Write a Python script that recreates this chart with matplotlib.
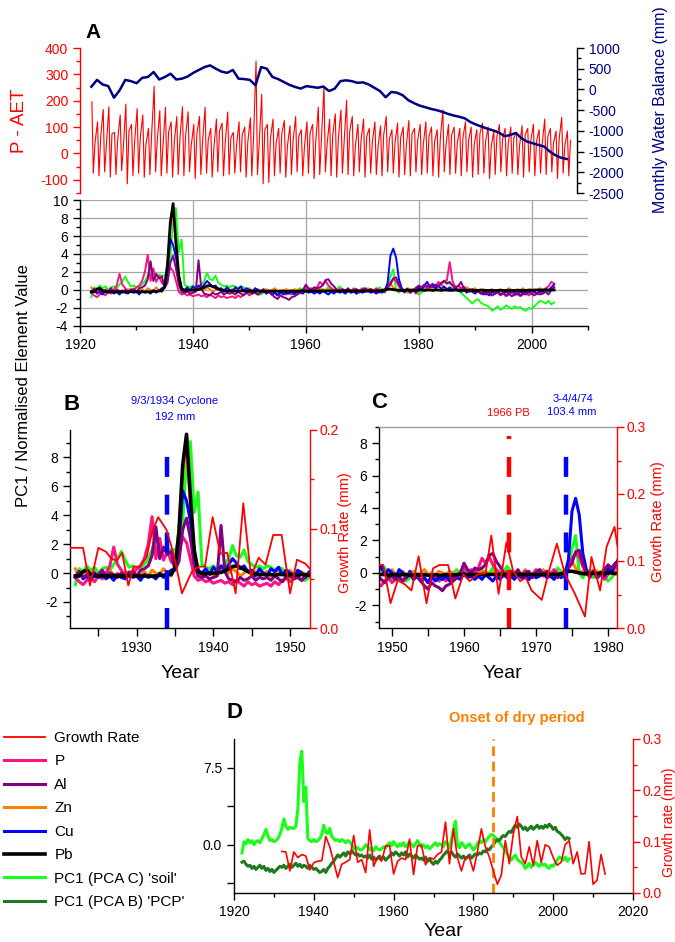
import numpy as np
import matplotlib
matplotlib.use('Agg')
import matplotlib.pyplot as plt
from matplotlib.ticker import MultipleLocator, FixedLocator, FormatStrFormatter

plt.rcParams['font.family'] = ['Liberation Sans', 'DejaVu Sans']
plt.rcParams['font.size'] = 10
plt.rcParams['axes.linewidth'] = 1.0
plt.rcParams['axes.unicode_minus'] = False

# ---------------- data ----------------

# P - AET (mm), one big spike, one trough and one small spike per year, from 1922
p_aet_peak = [196, 120, 167, 177, 80, 146, 187, 110, 170, 146,
              95, 255, 162, 175, 120, 140, 177, 158, 110, 140,
              175, 95, 130, 115, 157, 80, 120, 100, 135, 350,
              224, 110, 130, 95, 125, 105, 140, 90, 120, 110,
              175, 255, 130, 150, 165, 202, 140, 110, 130, 95,
              120, 105, 140, 90, 115, 100, 125, 95, 110, 120,
              100, 90, 165, 110, 100, 95, 120, 100, 90, 115,
              100, 85, 110, 95, 100, 80, 105, 95, 110, 90,
              130, 95, 85, 137, 85]
p_aet_trough = [-75, -85, -70, -90, -80, -65, -115, -85, -75, -90,
                -80, -70, -85, -75, -90, -80, -85, -70, -95, -80,
                -75, -90, -70, -85, -80, -75, -70, -90, -85, -80,
                -115, -110, -85, -75, -90, -80, -70, -85, -75, -95,
                -80, -70, -85, -90, -75, -80, -85, -70, -90, -75,
                -80, -85, -70, -75, -90, -80, -85, -70, -80, -75,
                -85, -90, -70, -80, -75, -85, -70, -90, -80, -75,
                -95, -80, -70, -85, -75, -80, -90, -70, -85, -75,
                -80, -70, -95, -75, -85]
p_aet_second = [40, 60, 30, 75, 50, 20, 85, 45, 60, 35,
                70, 50, 25, 80, 40, 55, 65, 30, 75, 45,
                50, 20, 85, 40, 60, 30, 70, 45, 55, 35,
                90, 60, 40, 75, 30, 50, 65, 25, 80, 45,
                55, 35, 70, 60, 40, 85, 30, 50, 65, 45,
                25, 70, 55, 40, 60, 30, 75, 50, 35, 65,
                45, 55, 30, 70, 40, 60, 50, 35, 75, 45,
                25, 65, 55, 40, 60, 30, 70, 50, 45, 35,
                65, 40, 55, 30, 50]

# monthly water balance (mm), yearly readings from 1922
water_balance = [65, 230, 120, 80, -200, -20, 230, 200, 150, 280,
                 300, 420, 240, 300, 380, 240, 260, 310, 400, 470,
                 540, 580, 500, 430, 400, 470, 260, 250, 230, 100,
                 540, 500, 300, 250, 180, 110, 60, 20, 80, 60,
                 40, 70, -40, 20, 200, 220, 200, 160, 170, 120,
                 40, -40, -190, -60, -80, -140, -260, -330, -390, -430,
                 -470, -500, -540, -590, -630, -660, -700, -790, -850, -900,
                 -950, -990, -1040, -1130, -1100, -1050, -1180, -1260, -1300, -1340,
                 -1380, -1500, -1590, -1650, -1680]

# normalised element values, half-year steps from 1922.0 to 2004.0
pb = [-0.2, -0.2, 0.1, 0.2, -0.1, -0.2, -0.2, -0.2, -0.2, -0.2,
      -0.2, -0.2, -0.2, -0.2, -0.2, -0.2, -0.2, -0.2, -0.2, -0.2,
      -0.2, -0.2, -0.15, -0.15, -0.1, -0.1, 0.4, 2.8, 7.5, 9.6,
      5.3, 1.6, 0.1, -0.05, -0.05, 0.0, 0.0, 0.0, 0.05, 0.15,
      0.3, 0.45, 0.5, 0.4, 0.25, 0.1, 0.0, -0.05, -0.1, -0.1,
      -0.1, -0.1, -0.15, -0.1, -0.1, -0.15, -0.1, -0.1, -0.15, -0.1,
      -0.1, -0.15, -0.15, -0.1, -0.15, -0.1, -0.15, -0.15, -0.1, -0.15,
      -0.15, -0.1, -0.15, -0.15, -0.1, -0.1, -0.15, -0.1, -0.1, -0.1,
      -0.1, -0.1, -0.1, -0.1, -0.1, -0.1, -0.1, -0.1, -0.1, -0.1,
      -0.1, -0.1, -0.1, -0.1, -0.1, -0.1, -0.1, -0.1, -0.1, -0.1,
      -0.1, -0.1, -0.1, -0.05, 0.0, 0.1, 0.1, 0.05, 0.0, -0.05,
      -0.05, -0.05, 0.0, -0.05, 0.0, -0.05, 0.0, 0.0, -0.05, 0.0,
      0.0, -0.05, 0.0, 0.0, -0.05, 0.0, 0.0, -0.05, 0.0, 0.0,
      -0.05, 0.0, -0.05, -0.05, 0.0, -0.05, -0.05, -0.05, 0.0, -0.05,
      -0.05, -0.05, -0.05, -0.05, -0.05, -0.05, -0.05, -0.05, -0.05, -0.05,
      -0.05, -0.05, -0.05, -0.05, -0.05, 0.0, -0.05, 0.0, 0.0, 0.0,
      0.0, 0.0, 0.0, 0.0, 0.0]
zn = [0.3, -0.2, 0.0, 0.2, -0.3, 0.1, -0.2, 0.0, -0.1, 0.2,
      -0.2, 0.0, -0.3, 0.1, -0.1, 0.2, -0.2, 0.0, 0.1, -0.2,
      0.2, 0.0, -0.1, 0.3, 0.0, -0.2, 0.5, 3.0, 7.0, 8.6,
      4.8, 1.2, 0.1, -0.1, 0.2, 0.0, -0.2, 0.1, 0.3, 0.2,
      0.0, 0.3, 0.1, -0.2, 0.0, 0.2, -0.1, 0.1, -0.2, 0.0,
      0.1, -0.2, 0.0, 0.2, -0.1, 0.0, 0.2, -0.1, 0.0, 0.1,
      -0.2, 0.0, 0.1, -0.1, 0.0, 0.2, -0.1, 0.0, -0.2, 0.1,
      0.0, -0.1, 0.1, 0.0, -0.2, 0.1, 0.2, 0.0, 0.1, -0.1,
      0.2, 0.0, 0.1, -0.1, 0.0, 0.2, -0.1, 0.0, 0.1, -0.1,
      0.0, 0.1, -0.1, 0.2, 0.0, -0.1, 0.1, 0.0, 0.2, -0.1,
      0.0, 0.1, -0.2, 0.0, 0.1, 0.4, 0.7, 0.3, 0.0, 0.1,
      -0.1, 0.0, 0.2, 0.1, -0.1, 0.3, 0.2, 0.0, 0.1, 0.4,
      0.2, 0.3, 0.1, 0.4, 0.6, 0.3, 0.2, 0.1, 0.3, 0.2,
      0.1, 0.2, 0.0, 0.3, 0.1, 0.0, 0.2, -0.1, 0.0, 0.1,
      -0.1, 0.0, 0.1, -0.2, 0.0, 0.1, -0.1, 0.0, 0.2, 0.0,
      -0.1, 0.1, 0.0, 0.2, -0.1, 0.0, 0.1, -0.1, 0.0, 0.2,
      0.0, 0.1, -0.1, 0.2, 0.3]
cu = [-0.3, 0.1, -0.4, -0.2, -0.5, 0.0, -0.3, -0.1, -0.4, -0.2,
      -0.5, -0.1, -0.3, -0.4, 0.0, -0.3, -0.2, -0.5, -0.1, -0.3,
      -0.2, -0.4, 0.0, -0.3, -0.1, 0.2, 0.3, 2.0, 5.7, 5.0,
      3.6, 1.5, 0.2, 0.0, 0.3, -0.1, 0.4, 0.1, 0.5, 0.2,
      0.6, 1.0, 0.7, 0.3, 0.5, 0.1, 0.2, -0.2, 0.3, 0.0,
      -0.2, 0.3, 0.1, 0.4, -0.1, 0.2, 0.0, -0.3, 0.2, 0.0,
      -0.3, 0.1, -0.4, -0.2, -0.5, -0.3, -0.6, -0.2, -0.5, -0.3,
      -0.4, -0.2, -0.5, -0.1, -0.3, -0.4, 0.0, -0.3, -0.2, -0.4,
      -0.2, -0.4, -0.1, -0.3, -0.5, -0.2, -0.4, -0.1, -0.3, -0.2,
      -0.4, -0.1, -0.3, -0.2, -0.4, -0.1, -0.3, -0.2, 0.0, -0.3,
      -0.2, -0.4, -0.1, -0.3, -0.1, 0.8, 3.8, 4.6, 3.6, 1.2,
      0.2, -0.2, 0.1, -0.3, 0.0, -0.2, 0.3, 0.0, 0.5, 0.9,
      0.3, 0.6, 0.2, 0.5, 0.1, 0.4, 0.0, 0.3, -0.1, 0.2,
      0.0, -0.2, 0.1, -0.3, 0.0, -0.2, -0.4, -0.1, -0.3, -0.5,
      -0.3, -0.6, -0.2, -0.4, -0.1, -0.5, -0.3, -0.2, -0.4, -0.1,
      -0.3, -0.5, -0.2, -0.4, -0.1, -0.3, 0.0, -0.2, -0.4, -0.1,
      -0.2, 0.1, -0.1, 0.3, 0.6]
al = [-0.2, 0.1, -0.3, -0.1, 0.0, -0.2, -0.1, 0.2, -0.2, 0.0,
      -0.1, -0.3, 0.0, -0.2, -0.1, 0.1, -0.2, 0.2, 0.3, 0.5,
      1.2, 3.2, 1.0, 1.8, 1.3, 1.5, 0.2, 0.8, 3.0, 3.8,
      2.4, 0.6, -0.2, -0.3, -0.2, -0.4, -0.3, -0.2, 3.3, 0.1,
      -0.4, -0.5, -0.6, -0.3, -0.5, -0.4, -0.2, -0.5, -0.3, -0.4,
      -0.3, -0.5, -0.2, -0.4, -0.6, -0.3, -0.2, -0.4, -0.3, -0.5,
      -0.2, 0.0, -0.3, -0.2, -0.5, -0.8, -1.0, -0.6, -0.8, -0.9,
      -1.1, -0.8, -0.7, -0.5, -0.3, 0.0, 0.6, 0.2, 0.0, 0.3,
      0.2, 0.3, 0.5, 1.1, 1.2, 0.7, 0.4, 0.0, -0.2, 0.1,
      -0.1, 0.2, -0.2, 0.0, 0.1, -0.3, 0.0, 0.2, -0.1, 0.1,
      -0.2, 0.0, -0.3, -0.1, -0.2, 0.3, 0.6, 1.3, 1.4, 0.6,
      0.0, -0.2, 0.1, -0.3, -0.1, 0.2, 0.5, 0.3, 0.6, 0.4,
      0.5, 0.3, 0.6, 0.4, 0.8, 1.0, 0.7, 0.9, 0.5, 0.3,
      0.4, 0.9, 0.2, 0.0, -0.2, 0.1, -0.3, -0.1, -0.4, -0.2,
      -0.5, -0.3, -0.6, -0.4, -0.2, -0.5, -0.3, -0.6, -0.4, -0.7,
      -0.5, -0.3, -0.6, -0.4, -0.5, -0.2, -0.4, -0.6, -0.3, -0.5,
      -0.4, -0.2, -0.5, 0.0, 0.3]
p = [-0.3, -0.6, -0.8, -0.5, -0.3, -0.6, -0.2, -0.4, 0.0, 0.5,
     1.8, 0.6, 0.2, -0.2, 0.1, -0.1, 0.3, 0.5, 1.0, 2.0,
     3.9, 1.0, 2.4, 0.9, 1.5, 0.8, 0.5, 1.5, 2.5, 2.1,
     1.0, -0.2, -0.5, -0.4, -0.6, -0.5, -0.7, -0.6, -0.5, -0.7,
     -0.6, -0.8, -0.5, -0.7, -0.9, -0.6, -0.8, -0.7, -0.9, -0.8,
     -0.7, -0.9, -0.6, -0.8, -0.5, -0.3, -0.6, -0.4, -0.2, -0.5,
     -0.3, -0.1, -0.4, -0.2, -0.5, -0.3, -0.6, -0.4, -0.2, -0.5,
     -0.3, -0.5, -0.2, -0.4, -0.1, 0.0, 0.3, 0.1, 0.2, 0.0,
     0.3, 0.9, 0.6, 1.0, 0.5, 0.2, 0.0, -0.2, 0.1, -0.1,
     -0.3, 0.0, -0.2, 0.1, -0.4, -0.1, 0.2, 0.0, -0.2, 0.1,
     -0.1, 0.2, 0.0, -0.2, 0.1, 0.5, 0.9, 1.2, 1.0, 0.4,
     0.0, -0.3, 0.1, -0.2, 0.0, -0.4, -0.1, 0.2, 0.4, 0.2,
     0.5, 0.7, 0.4, 0.9, 0.6, 1.0, 1.1, 3.1, 1.0, 0.3,
     0.5, 0.2, 0.4, 0.0, -0.2, 0.1, -0.3, -0.1, -0.4, -0.3,
     -0.5, -0.2, -0.6, -0.4, -0.3, -0.6, -0.4, -0.7, -0.5, -0.3,
     -0.6, -0.4, -0.7, -0.5, -0.3, -0.6, -0.4, -0.2, -0.5, -0.3,
     -0.1, 0.2, 0.4, 0.9, 0.7]
pc1_soil = [-0.8, 0.3, 0.1, 0.5, 0.2, 0.4, 0.0, 0.3, 0.4, 0.2,
            0.6, 1.0, 1.5, 0.9, 0.4, 0.5, 0.3, 0.4, 0.6, 1.0,
            1.6, 2.5, 1.8, 1.5, 1.7, 1.6, 1.6, 1.8, 3.5, 8.0,
            9.1, 4.2, 5.6, 0.6, 0.4, 0.3, 0.5, 0.3, 0.4, 0.6,
            1.0, 1.9, 1.2, 1.1, 1.6, 0.8, 0.6, 0.4, 0.5, 0.3,
            0.5, 0.4, 0.2, 0.4, 0.3, 0.0, -0.4, -0.2, -0.3, -0.5,
            -0.5, -0.3, 0.0, -0.2, -0.5, -0.3, -0.6, -0.2, -0.4, -0.5,
            -0.4, -0.2, -0.3, 0.0, 0.2, -0.1, 0.3, 0.0, -0.2, 0.1,
            -0.1, 0.2, -0.2, 0.0, 0.3, 0.0, -0.2, 0.1, 0.4, 0.1,
            -0.2, 0.0, -0.3, -0.1, -0.4, -0.2, 0.0, 0.2, -0.1, 0.1,
            0.0, -0.2, 0.3, 0.1, -0.3, 0.5, 1.5, 2.3, 0.0, -0.3,
            0.2, 0.0, -0.3, -0.1, 0.1, -0.2, -0.5, -0.3, 0.1, 0.4,
            0.2, 0.5, 0.3, 0.6, 0.8, 1.0, 0.9, 0.7, 0.5, 0.2,
            0.0, -0.3, -0.6, -0.9, -1.2, -1.5, -1.2, -1.0, -1.4, -1.6,
            -1.7, -1.9, -2.3, -2.1, -1.8, -2.2, -2.0, -1.7, -1.9, -2.1,
            -1.8, -2.0, -1.9, -2.2, -2.3, -2.0, -2.1, -1.8, -1.5, -1.2,
            -1.3, -1.5, -1.2, -1.6, -1.4]
pc1_pcp = [-1.7, -1.6, -1.9, -2.1, -2.0, -2.3, -2.1, -2.4, -2.2, -2.0,
           -2.3, -2.1, -2.5, -2.3, -2.6, -2.4, -2.7, -2.5, -2.3, -2.1,
           -2.2, -2.0, -2.3, -2.1, -1.9, -2.2, -2.0, -1.8, -2.1, -1.9,
           -2.2, -2.0, -2.1, -2.3, -2.0, -2.2, -2.4, -2.3, -2.5, -2.7,
           -2.6, -2.4, -2.7, -2.3, -2.1, -1.8, -1.6, -1.3, -1.0, -1.2,
           -1.0, -0.8, -1.1, -0.7, -0.9, -0.6, -0.8, -1.0, -0.9, -1.1,
           -1.0, -1.2, -1.1, -1.3, -1.0, -1.4, -1.2, -1.5, -1.3, -1.1,
           -1.4, -1.2, -1.5, -1.3, -1.1, -0.8, -1.0, -0.7, -0.9, -1.1,
           -0.8, -1.0, -0.7, -1.2, -0.9, -1.1, -1.3, -1.0, -1.2, -1.4,
           -1.3, -1.5, -1.2, -1.6, -1.4, -1.7, -1.9, -1.6, -1.8, -1.5,
           -1.3, -1.0, -0.8, -0.6, -0.9, -0.7, -1.0, -1.2, -0.9, -1.1,
           -1.3, -1.1, -1.4, -1.2, -1.0, -1.3, -1.1, -0.9, -1.0, -0.8,
           -0.9, -0.6, -0.7, -0.4, -0.5, -0.2, 0.0, 0.3, 0.5, 0.4,
           0.7, 0.9, 0.8, 1.1, 1.3, 1.2, 1.6, 1.9, 1.7, 2.0,
           1.8, 1.5, 1.7, 1.4, 1.6, 1.8, 1.5, 1.7, 1.9, 1.6,
           1.8, 1.6, 1.9, 1.7, 2.0, 1.8, 1.5, 1.7, 1.3, 1.2,
           1.0, 0.8, 0.5, 0.7, 0.6]

# growth rate (mm) as drawn in panels B, C and D
growth_b_years = [1921.3, 1923.0, 1923.9, 1925.0, 1926.0, 1926.7, 1927.4, 1928.1, 1928.9, 1929.6,
                  1930.4, 1931.3, 1932.0, 1932.8, 1933.9, 1934.8, 1935.9, 1937.2, 1938.1, 1938.9,
                  1939.9, 1940.9, 1941.8, 1942.9, 1943.9, 1944.9, 1945.9, 1946.8, 1947.8, 1948.9,
                  1950.0, 1950.9, 1952.0, 1952.8]
growth_b = [0.081, 0.081, 0.043, 0.081, 0.077, 0.070, 0.068, 0.076, 0.043, 0.062,
            0.062, 0.072, 0.097, 0.112, 0.099, 0.075, 0.035, 0.057, 0.062, 0.062,
            0.112, 0.075, 0.076, 0.035, 0.126, 0.052, 0.071, 0.064, 0.094, 0.094,
            0.035, 0.069, 0.065, 0.058]
growth_c_years = [1948.2, 1948.8, 1949.8, 1950.8, 1951.8, 1952.7, 1953.7, 1954.8, 1955.7, 1956.6,
                  1957.8, 1958.8, 1959.9, 1960.8, 1961.9, 1963.0, 1963.8, 1964.8, 1965.9, 1966.8,
                  1967.8, 1968.6, 1969.4, 1970.8, 1971.8, 1972.9, 1974.0, 1975.4, 1976.8, 1977.7,
                  1978.9, 1979.8, 1980.9, 1981.5]
growth_c = [0.094, 0.094, 0.037, 0.071, 0.065, 0.056, 0.107, 0.037, 0.089, 0.094,
            0.094, 0.044, 0.080, 0.070, 0.080, 0.082, 0.138, 0.051, 0.128, 0.086,
            0.070, 0.075, 0.056, 0.042, 0.085, 0.126, 0.081, 0.051, 0.017, 0.106,
            0.056, 0.121, 0.151, 0.110]
# yearly from 1932
growth_d = [0.081, 0.080, 0.043, 0.080, 0.069, 0.075, 0.072, 0.045, 0.059, 0.062,
            0.063, 0.110, 0.090, 0.060, 0.030, 0.056, 0.060, 0.065, 0.112, 0.060,
            0.065, 0.040, 0.123, 0.052, 0.070, 0.062, 0.092, 0.092, 0.037, 0.062,
            0.068, 0.065, 0.105, 0.036, 0.092, 0.093, 0.055, 0.069, 0.066, 0.075,
            0.080, 0.138, 0.057, 0.125, 0.069, 0.043, 0.070, 0.069, 0.043, 0.080,
            0.125, 0.090, 0.070, 0.043, 0.017, 0.035, 0.102, 0.057, 0.115, 0.149,
            0.070, 0.057, 0.090, 0.054, 0.102, 0.060, 0.094, 0.090, 0.069, 0.054,
            0.060, 0.094, 0.102, 0.057, 0.080, 0.037, 0.038, 0.100, 0.017, 0.025,
            0.075, 0.037]

# colours
RED = '#ff0000'
NAVY = '#000080'
PINK = '#ff1485'
PURPLE = '#800080'
ORANGE = '#ff8000'
BLUE = '#0000ff'
LIME = '#1aff1a'
DKGREEN = '#1f7a1f'

# year axes
pa_years = 1922 + np.arange(len(p_aet_peak))
pa_x = np.column_stack([pa_years + 0.1, pa_years + 0.35, pa_years + 0.65]).ravel()
pa_y = np.column_stack([p_aet_peak, p_aet_trough, p_aet_second]).ravel()
wb_years = 1922 + np.arange(len(water_balance))
el_years = 1922 + 0.5 * np.arange(len(pb))
gd_years = 1932 + np.arange(len(growth_d))

W, H = 675, 942
fig = plt.figure(figsize=(W / 100, H / 100), dpi=100)


def box(x0, y0, x1, y1):
    # pixel box of the reference -> figure fractions
    return [x0 / W, 1 - y1 / H, (x1 - x0) / W, (y1 - y0) / H]


def ticks(ax, axis, major, minor, color='black', labelcolor=None, pad=3.5):
    loc = ax.xaxis if axis == 'x' else ax.yaxis
    loc.set_major_locator(MultipleLocator(major))
    loc.set_minor_locator(MultipleLocator(minor))
    ax.tick_params(axis=axis, which='major', length=5, width=1, color=color,
                   labelcolor=labelcolor or color, labelsize=10, pad=pad)
    ax.tick_params(axis=axis, which='minor', length=3, width=1, color=color)


def elements(ax, lw, lw_pb):
    h = {}
    h['soil'], = ax.plot(el_years, pc1_soil, color=LIME, lw=lw)
    h['zn'], = ax.plot(el_years, zn, color=ORANGE, lw=lw)
    h['p'], = ax.plot(el_years, p, color=PINK, lw=lw)
    h['cu'], = ax.plot(el_years, cu, color=BLUE, lw=lw)
    h['al'], = ax.plot(el_years, al, color=PURPLE, lw=lw)
    h['pb'], = ax.plot(el_years, pb, color='black', lw=lw_pb)
    return h


def red_twin(ax, top):
    tw = ax.twinx()
    tw.set_ylim(0, top)
    ticks(tw, 'y', 0.1, 0.05, color=RED, pad=2)
    tw.yaxis.set_major_formatter(FormatStrFormatter('%.1f'))
    tw.spines['right'].set_color(RED)
    for s in ['top', 'left', 'bottom']:
        tw.spines[s].set_visible(False)
    return tw


# ---------------- panel A, top: P - AET and water balance ----------------
ax_a = fig.add_axes(box(80, 48, 577, 193))
ax_a.plot(pa_x, pa_y, color=RED, lw=0.8)
ax_a.set_xlim(1920, 2007.8)
ax_a.set_ylim(-150, 400)
ax_a.set_xticks([])
for s in ['top', 'bottom', 'right']:
    ax_a.spines[s].set_visible(False)
ax_a.spines['left'].set_color(RED)
ticks(ax_a, 'y', 100, 50, color=RED)
ax_a.patch.set_alpha(0)

ax_wb = ax_a.twinx()
ax_wb.plot(wb_years, water_balance, color=NAVY, lw=1.8)
ax_wb.set_ylim(-2500, 1000)
for s in ['top', 'bottom', 'left']:
    ax_wb.spines[s].set_visible(False)
ticks(ax_wb, 'y', 500, 250, color='black', labelcolor=NAVY)

fig.text(93 / W, 1 - 33 / H, 'A', fontsize=15, fontweight='bold', ha='center', va='center')
fig.text(19 / W, 1 - 121 / H, 'P - AET', color=RED, fontsize=13.5, rotation=90,
         ha='center', va='center')
fig.text(661 / W, 1 - 110 / H, 'Monthly Water Balance (mm)', color=NAVY, fontsize=11.5,
         rotation=90, ha='center', va='center')

# ---------------- panel A, bottom: element values ----------------
ax_e = fig.add_axes(box(80, 200, 588, 326))
elements(ax_e, 1.4, 2.0)
ax_e.set_xlim(1920, 2010)
ax_e.set_ylim(-4, 10)
ticks(ax_e, 'x', 20, 10)
ticks(ax_e, 'y', 2, 1)
ax_e.grid(True, which='major', color='#a6a6a6', lw=0.9)
ax_e.set_axisbelow(True)
ax_e.spines['top'].set_visible(False)
ax_e.spines['right'].set_visible(False)

fig.text(24 / W, 1 - 386 / H, 'PC1 / Normalised Element Value', fontsize=12,
         rotation=90, ha='center', va='center')

# ---------------- panel B: 1934 cyclone ----------------
ax_b = fig.add_axes(box(70, 430, 310, 628))
hb = elements(ax_b, 2.2, 2.6)
ax_b.set_xlim(1921.3, 1952.6)
ax_b.set_ylim(-3.8, 9.9)
ticks(ax_b, 'y', 2, 1)
ticks(ax_b, 'x', 10, 5)
ax_b.tick_params(axis='x', which='both', length=6)
ax_b.spines['top'].set_visible(False)
ax_b.spines['right'].set_visible(False)
ax_b.axvline(1934, ymin=0, ymax=0.9, color=BLUE, lw=3.2, linestyle=(0, (4.5, 4)))

ax_b2 = red_twin(ax_b, 0.2)
h_growth, = ax_b2.plot(growth_b_years, growth_b, color=RED, lw=1.3)

fig.text(72 / W, 1 - 405 / H, 'B', fontsize=16, fontweight='bold', ha='center', va='center')
fig.text(175 / W, 1 - 401 / H, '9/3/1934 Cyclone', color=BLUE, fontsize=8, ha='center', va='center')
fig.text(175 / W, 1 - 417 / H, '192 mm', color=BLUE, fontsize=8, ha='center', va='center')
fig.text(180 / W, 1 - 673 / H, 'Year', fontsize=14, ha='center', va='center')
fig.text(345 / W, 1 - 533 / H, 'Growth Rate (mm)', color=RED, fontsize=10.5, rotation=90,
         ha='center', va='center')

# ---------------- panel C: 1966 and 1974 ----------------
ax_c = fig.add_axes(box(379, 427, 617, 628))
elements(ax_c, 2.2, 2.6)
ax_c.set_xlim(1948.2, 1981.25)
ax_c.set_ylim(-3.4, 9.0)
ticks(ax_c, 'y', 2, 1)
ticks(ax_c, 'x', 10, 5)
ax_c.tick_params(axis='x', which='both', length=6)
ax_c.spines['right'].set_visible(False)
ax_c.spines['top'].set_color('#a0a0a0')
ax_c.axvline(1966.3, ymin=0, ymax=0.955, color=RED, lw=3.2, linestyle=(0, (4.5, 4)))
ax_c.axvline(1974.2, ymin=0, ymax=0.935, color=BLUE, lw=3.2, linestyle=(0, (4.5, 4)))

ax_c2 = red_twin(ax_c, 0.3)
ax_c2.plot(growth_c_years, growth_c, color=RED, lw=1.3)

fig.text(379 / W, 1 - 403 / H, 'C', fontsize=16, fontweight='bold', ha='center', va='center')
fig.text(508 / W, 1 - 413 / H, '1966 PB', color=RED, fontsize=8, ha='center', va='center')
fig.text(573 / W, 1 - 399 / H, '3-4/4/74', color=BLUE, fontsize=8, ha='center', va='center')
fig.text(572 / W, 1 - 412 / H, '103.4 mm', color=BLUE, fontsize=8, ha='center', va='center')
fig.text(502 / W, 1 - 673 / H, 'Year', fontsize=14, ha='center', va='center')
fig.text(658 / W, 1 - 522 / H, 'Growth Rate (mm)', color=RED, fontsize=10.5, rotation=90,
         ha='center', va='center')

# ---------------- panel D: PC1 and growth rate ----------------
ax_d = fig.add_axes(box(234, 739, 633, 893))
h_soil, = ax_d.plot(el_years, pc1_soil, color=LIME, lw=2.2)
h_pcp, = ax_d.plot(el_years, pc1_pcp, color=DKGREEN, lw=2.2)
ax_d.set_xlim(1920, 2020)
ax_d.set_ylim(-4.7, 10.3)
ticks(ax_d, 'x', 20, 10)
ax_d.yaxis.set_major_locator(FixedLocator([0, 7.5]))
ax_d.yaxis.set_minor_locator(FixedLocator([-3.75, 3.75]))
ax_d.yaxis.set_major_formatter(FormatStrFormatter('%.1f'))
ax_d.tick_params(axis='y', which='both', length=5, width=1, labelsize=10)
ax_d.spines['top'].set_visible(False)
ax_d.spines['right'].set_visible(False)
ax_d.axvline(1985, color=ORANGE, lw=2.0, linestyle=(0, (3.5, 2)))

ax_d2 = red_twin(ax_d, 0.3)
ax_d2.plot(gd_years, growth_d, color=RED, lw=1.2)

fig.text(235 / W, 1 - 712 / H, 'D', fontsize=16, fontweight='bold', ha='center', va='center')
fig.text(517 / W, 1 - 718 / H, 'Onset of dry period', color=ORANGE, fontsize=10.5,
         fontweight='bold', ha='center', va='center')
fig.text(443 / W, 1 - 931 / H, 'Year', fontsize=14, ha='center', va='center')
fig.text(669 / W, 1 - 822 / H, 'Growth rate (mm)', color=RED, fontsize=10, rotation=90,
         ha='center', va='center')

# legend on the left of panel D
handles = [h_growth, hb['p'], hb['al'], hb['zn'], hb['cu'], hb['pb'], h_soil, h_pcp]
labels = ['Growth Rate', 'P', 'Al', 'Zn', 'Cu', 'Pb', "PC1 (PCA C) 'soil'", "PC1 (PCA B) 'PCP'"]
fig.legend(handles, labels, loc='upper left', bbox_to_anchor=(4 / W, 1 - 731 / H),
           frameon=False, fontsize=11, handlelength=2.7, handletextpad=0.6,
           labelspacing=0.62, borderpad=0, borderaxespad=0)

fig.savefig('out.png', dpi=100)
